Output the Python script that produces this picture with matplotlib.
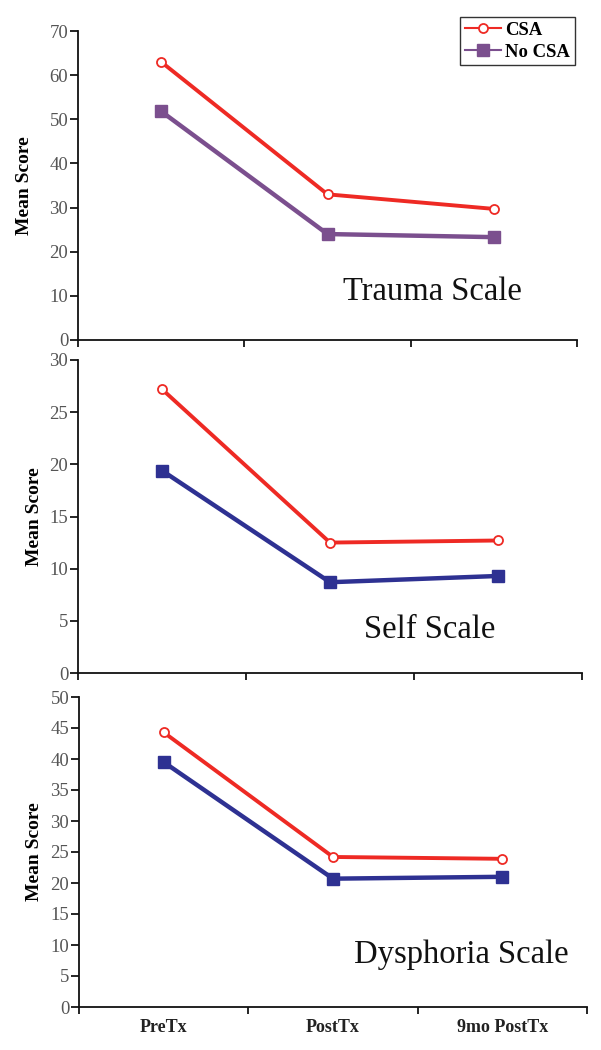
import matplotlib
matplotlib.use("Agg")
import matplotlib.pyplot as plt
import numpy as np

categories = ["PreTx", "PostTx", "9mo PostTx"]

trauma_csa = [63.0, 33.0, 29.7]
trauma_nocsa = [51.8, 24.0, 23.3]
self_csa = [27.2, 12.5, 12.7]
self_nocsa = [19.4, 8.7, 9.3]
dys_csa = [44.3, 24.2, 23.9]
dys_nocsa = [39.5, 20.7, 21.0]

panels = [
    ("Trauma Scale", trauma_csa, trauma_nocsa, "#7b4f8e", 70, 10),
    ("Self Scale", self_csa, self_nocsa, "#2e3192", 30, 5),
    ("Dysphoria Scale", dys_csa, dys_nocsa, "#2e3192", 50, 5),
]

plt.rcParams['font.family'] = ['Liberation Serif', 'DejaVu Serif']

W, H = 601, 1050
fig = plt.figure(figsize=(W / 100, H / 100), dpi=100)

# axes boxes in pixels: left, right, top, bottom
boxes = [(78, 577, 31, 340), (78, 582, 360, 673), (79, 587, 697, 1007)]
text_pos = [(432, 292), (430, 630), (461, 955)]
ylabel_right = [33, 43, 43]
red = "#ee2a24"

x = np.arange(len(categories))
for i, ((title, csa, nocsa, col, ymax, step), (l, r, t, b)) in enumerate(zip(panels, boxes)):
    ax = fig.add_axes([l / W, 1 - b / H, (r - l) / W, (b - t) / H])
    ax.plot(x, csa, color=red, lw=2.8, marker='o', ms=6.5, mfc='white',
            mec=red, mew=1.3, label="CSA", zorder=3)
    ax.plot(x, nocsa, color=col, lw=3.2, marker='s', ms=8, mfc=col,
            mec=col, label="No CSA", zorder=3)
    ax.set_xlim(-0.5, 2.5)
    ax.set_ylim(0, ymax)
    ax.set_yticks(np.arange(0, ymax + 1, step))
    ax.tick_params(axis='y', direction='out', length=6, width=1.2,
                   labelsize=13.5, labelcolor='#555555', pad=1)
    ax.set_xticks([-0.5, 0.5, 1.5, 2.5])
    ax.set_xticklabels([])
    ax.tick_params(axis='x', which='major', direction='out', length=5, width=1.2)
    ax.set_xticks(x, minor=True)
    if i == 2:
        ax.set_xticklabels(categories, minor=True, fontsize=13,
                           fontweight='bold', color='#222222')
        ax.tick_params(axis='x', which='minor', length=0, pad=9)
    else:
        ax.tick_params(axis='x', which='minor', length=0, labelbottom=False)
    for s in ['top', 'right']:
        ax.spines[s].set_visible(False)
    for s in ['left', 'bottom']:
        ax.spines[s].set_linewidth(1.3)
        ax.spines[s].set_color('#111111')
    ax.set_ylabel("Mean Score", fontsize=14, fontweight='bold')
    ax.yaxis.set_label_coords((ylabel_right[i] - l) / (r - l), 0.5)
    tx, ty = text_pos[i]
    fig.text(tx / W, 1 - ty / H, title, fontsize=23.5, ha='center', va='center',
             color='#111111')
    if i == 0:
        leg = ax.legend(loc='upper right', bbox_to_anchor=(575 / W, 1 - 17 / H),
                        bbox_transform=fig.transFigure, frameon=True,
                        fancybox=False, edgecolor='black',
                        prop={'weight': 'bold', 'size': 13.5},
                        handlelength=1.9, handletextpad=0.25, borderpad=0.25,
                        labelspacing=0.25, borderaxespad=0)
        leg.get_frame().set_linewidth(1.0)
        for line in leg.get_lines():
            line.set_linewidth(1.5)

fig.savefig("out.png", dpi=100)
